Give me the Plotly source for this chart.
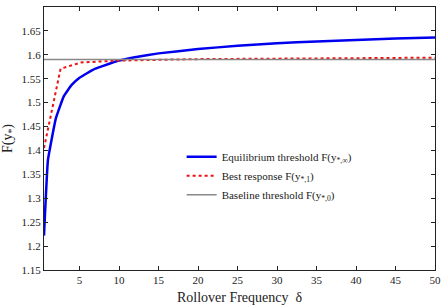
import plotly.graph_objects as go

# Equilibrium threshold F(y*,inf)
eq_x = [0.5, 1, 2, 3, 4, 5, 6, 7, 8, 10, 12, 15, 20, 25, 30, 35, 40, 45, 50]
eq_y = [1.222, 1.380, 1.467, 1.513, 1.537, 1.552, 1.562, 1.571, 1.577, 1.588, 1.595, 1.603, 1.612, 1.619, 1.624, 1.628, 1.631, 1.634, 1.636]

# Best response F(y*,1)
br_x = [0.5, 2.6, 5.2, 7.5, 10, 20, 30, 40, 50]
br_y = [1.405, 1.571, 1.584, 1.586, 1.588, 1.591, 1.592, 1.593, 1.594]

# Baseline threshold F(y*,0)
base_x = [0.5, 50]
base_y = [1.590, 1.590]

x_ticks = [5, 10, 15, 20, 25, 30, 35, 40, 45, 50]
y_ticks = [1.15, 1.2, 1.25, 1.3, 1.35, 1.4, 1.45, 1.5, 1.55, 1.6, 1.65]

font = "Liberation Serif, Times New Roman, serif"

fig = go.Figure()
fig.add_trace(go.Scatter(x=eq_x, y=eq_y, mode="lines",
                         line=dict(color="#0000ee", width=2.5, shape="spline", smoothing=0.3),
                         name="Equilibrium threshold F(y<sub>*,∞</sub>)"))
fig.add_trace(go.Scatter(x=br_x, y=br_y, mode="lines",
                         line=dict(color="#ee1111", width=2, dash="dot"),
                         name="Best response F(y<sub>*,1</sub>)"))
fig.add_trace(go.Scatter(x=base_x, y=base_y, mode="lines",
                         line=dict(color="#888888", width=1.5),
                         name="Baseline threshold F(y<sub>*,0</sub>)"))

axis_common = dict(showgrid=False, zeroline=False, showline=True, linecolor="#222222",
                   linewidth=1.2, mirror="ticks", ticks="inside", ticklen=4,
                   tickcolor="#222222", tickfont=dict(family=font, size=11, color="#222222"))

fig.update_xaxes(range=[0.5, 50], tickvals=x_ticks,
                 title=dict(text="Rollover Frequency  δ", font=dict(family=font, size=14, color="#222222"), standoff=6),
                 **axis_common)
fig.update_yaxes(range=[1.15, 1.7], tickvals=y_ticks,
                 title=dict(text="F(y<sub>*</sub>)", font=dict(family=font, size=14, color="#222222"), standoff=6),
                 **axis_common)

fig.update_layout(
    width=447, height=308,
    margin=dict(l=42, r=8, t=6, b=33),
    paper_bgcolor="white", plot_bgcolor="white",
    font=dict(family=font, size=11, color="#222222"),
    legend=dict(x=0.352, y=0.486, xanchor="left", yanchor="top",
                bgcolor="rgba(0,0,0,0)", borderwidth=0,
                font=dict(family=font, size=11, color="#222222"),
                itemwidth=30, tracegroupgap=0),
)

fig.write_html("out.html")
